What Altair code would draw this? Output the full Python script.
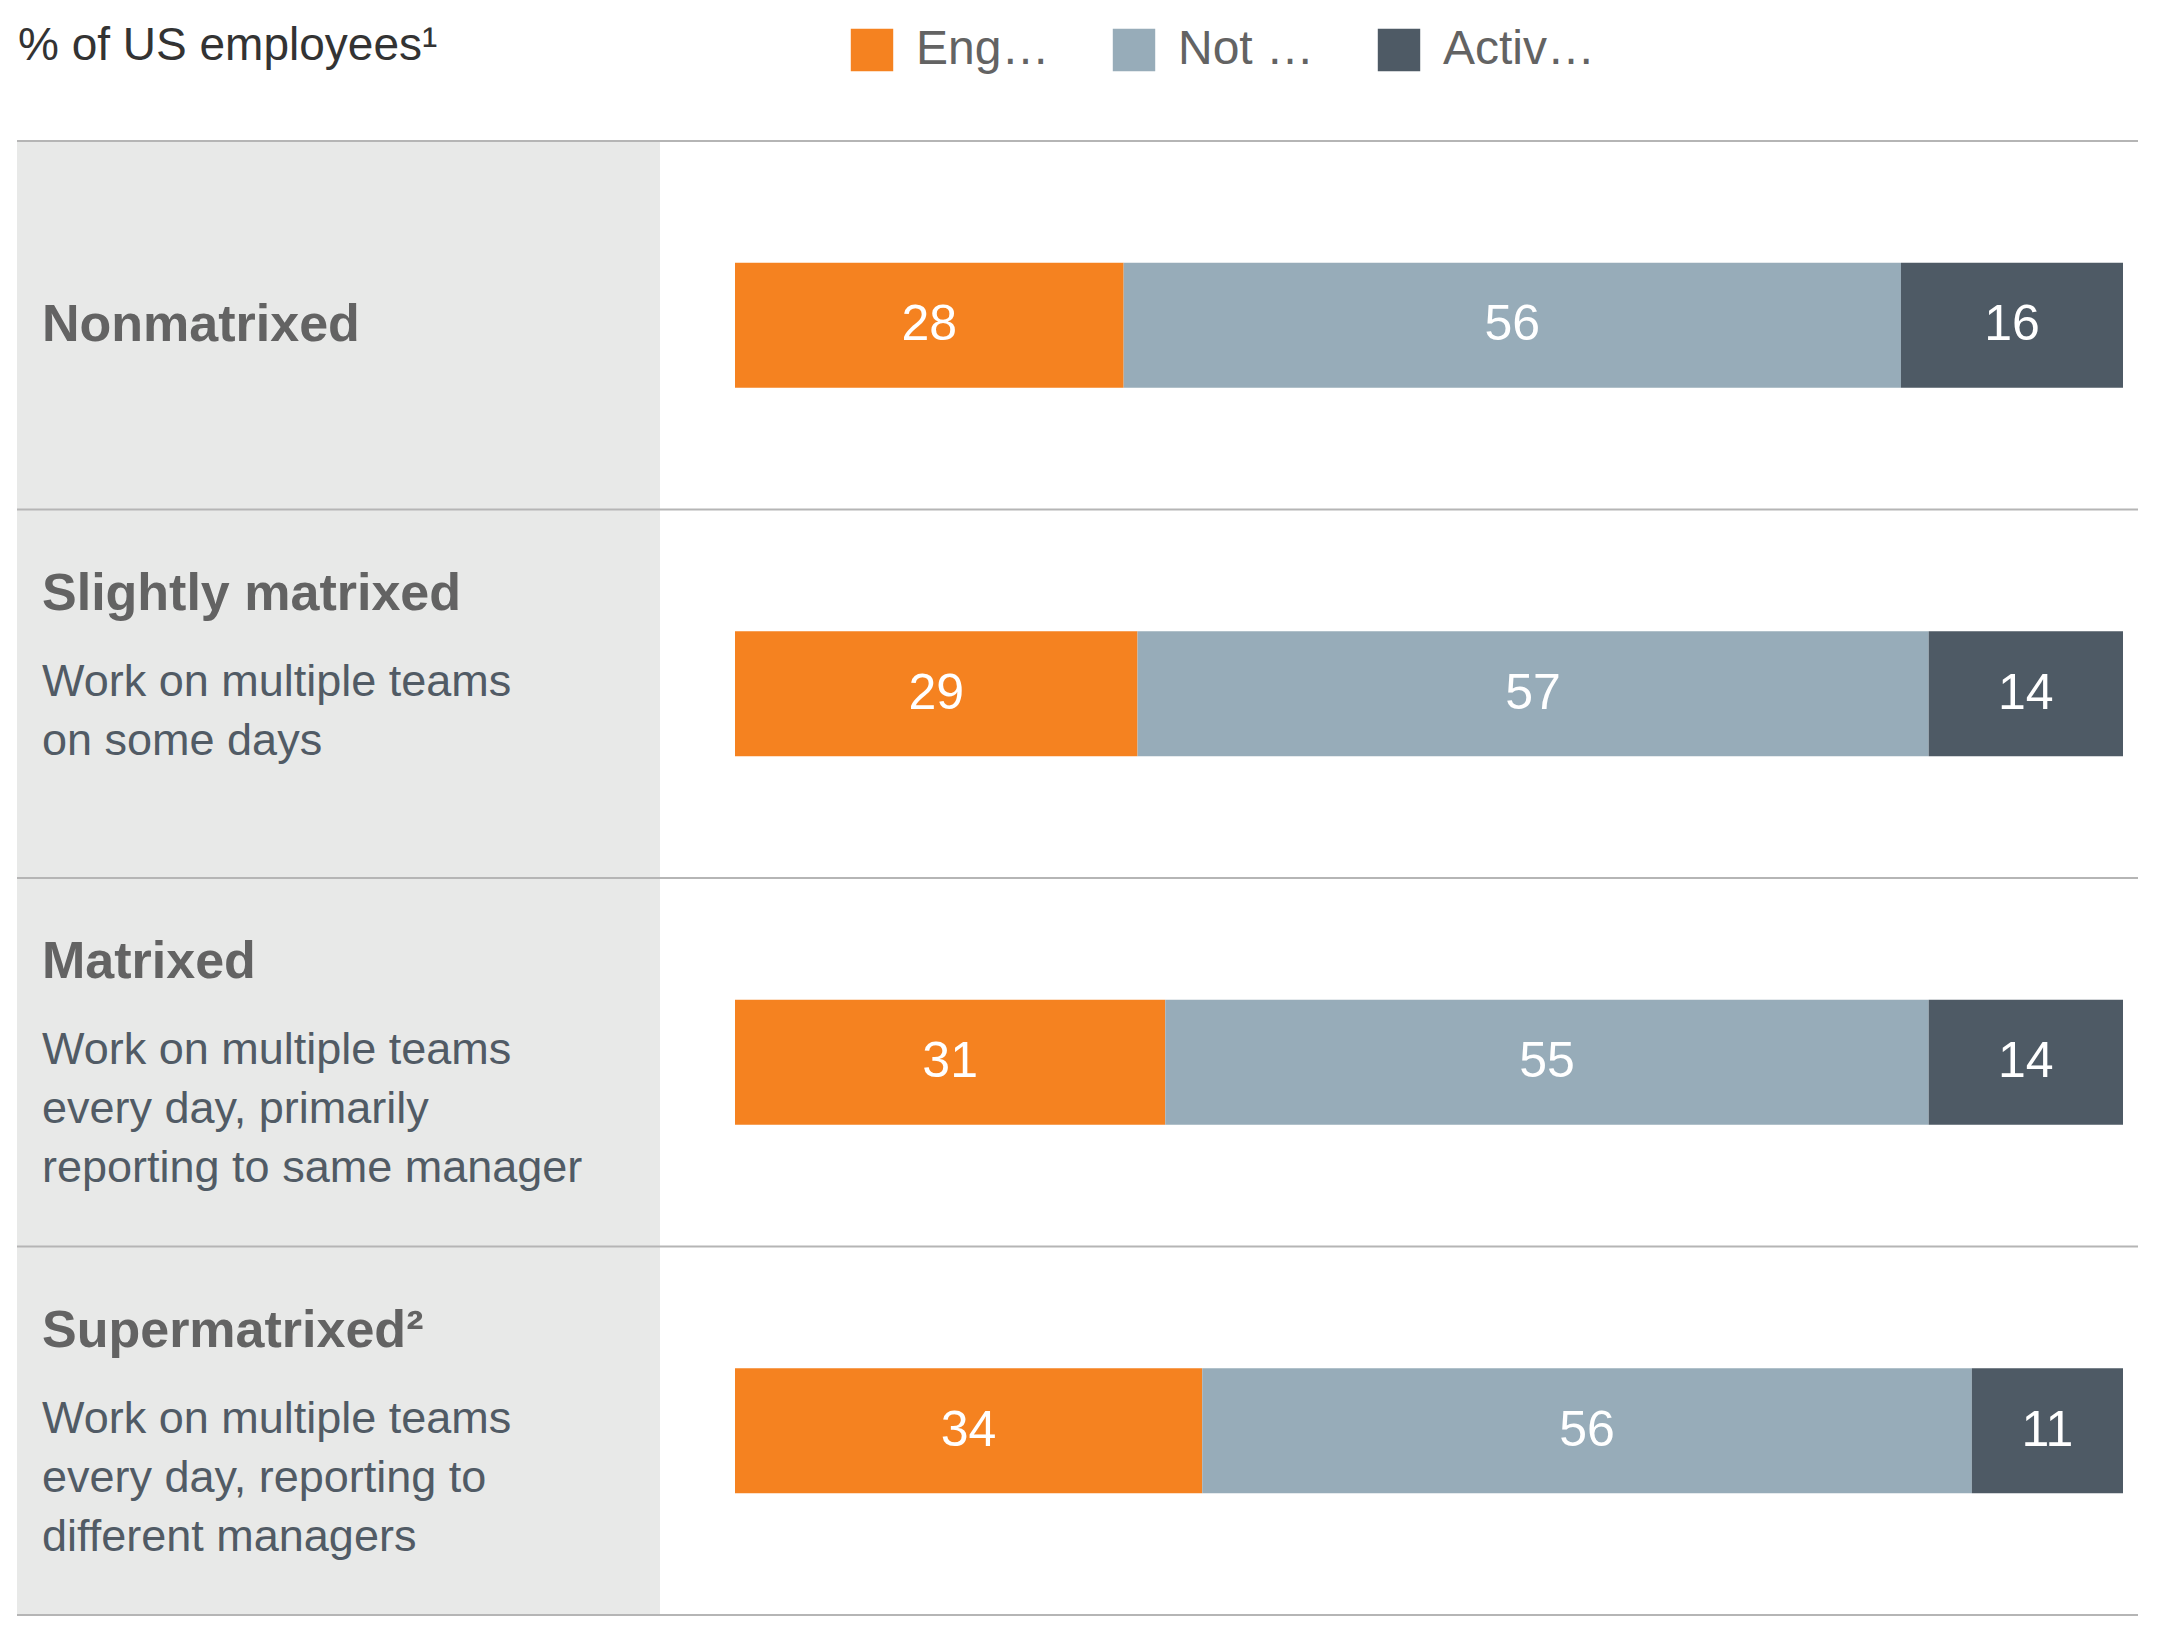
import altair as alt
import pandas as pd

categories = ["Nonmatrixed", "Slightly matrixed", "Matrixed", "Supermatrixed²"]
descriptions = ["", "Work on multiple teams\non some days",
                "Work on multiple teams\nevery day, primarily\nreporting to same manager",
                "Work on multiple teams\nevery day, reporting to\ndifferent managers"]
series = ["Engaged", "Not engaged", "Actively disengaged"]
engaged = [28, 29, 31, 34]
not_engaged = [56, 57, 55, 56]
disengaged = [16, 14, 14, 11]
colors = ["#F58220", "#97ACB9", "#4E5A65"]

rows = []
for i, c in enumerate(categories):
    vals = [engaged[i], not_engaged[i], disengaged[i]]
    tot = sum(vals)
    cum = 0
    for s, v in zip(series, vals):
        rows.append(dict(cat=c, series=s, value=v, x0=cum / tot, x1=(cum + v) / tot,
                         mid=(cum + v / 2) / tot))
        cum += v
bars = pd.DataFrame(rows)
cats = pd.DataFrame(dict(cat=categories, desc=descriptions, idx=range(4)))

F = "Liberation Sans"
yband = alt.Scale(domain=categories, range=[133, 1607], paddingInner=0, paddingOuter=0)
xs = alt.Scale(domain=[0, 1], range=[727, 2115])

bg = alt.Chart(cats).mark_rect(color="#E8E9E8").encode(
    y=alt.Y("cat:N", scale=yband, axis=None), x=alt.value(9), x2=alt.value(652))
rules = alt.Chart(cats).mark_rule(color="#B5B5B5", strokeWidth=2).encode(
    y=alt.Y("cat:N", scale=yband, bandPosition=0), x=alt.value(9), x2=alt.value(2130))
bottom = alt.Chart(cats.head(1)).mark_rule(color="#B5B5B5", strokeWidth=2).encode(
    y=alt.value(1607), x=alt.value(9), x2=alt.value(2130))

bar = alt.Chart(bars).mark_bar(height=125).encode(
    y=alt.Y("cat:N", scale=yband),
    x=alt.X("x0:Q", scale=xs, axis=None), x2="x1:Q",
    color=alt.Color("series:N", scale=alt.Scale(domain=series, range=colors),
                    legend=alt.Legend(orient="none", legendX=840, legendY=18, direction="horizontal",
                                      title=None, symbolType="square", symbolSize=1800,
                                      symbolStrokeWidth=0, symbolOpacity=1,
                                      labelFontSize=48, labelFont=F, labelColor="#636363",
                                      columnPadding=60, labelOffset=20)))
nums = alt.Chart(bars).mark_text(color="white", fontSize=50, font=F).encode(
    y=alt.Y("cat:N", scale=yband), x=alt.X("mid:Q", scale=xs), text="value:Q")

title1 = alt.Chart(cats).transform_filter("datum.idx == 0").mark_text(
    align="left", fontSize=52, fontWeight="bold", font=F, color="#636363").encode(
    y=alt.Y("cat:N", scale=yband), x=alt.value(34), text="cat:N")
titles = alt.Chart(cats).transform_filter("datum.idx > 0").mark_text(
    align="left", baseline="middle", dy=84, fontSize=52, fontWeight="bold", font=F,
    color="#636363").encode(
    y=alt.Y("cat:N", scale=yband, bandPosition=0), x=alt.value(34), text="cat:N")
descs = alt.Chart(cats).transform_filter("datum.idx > 0").transform_calculate(
    lines="split(datum.desc, '\\n')").mark_text(
    align="left", baseline="top", dy=150, fontSize=45, font=F, color="#515B65",
    lineHeight=59).encode(
    y=alt.Y("cat:N", scale=yband, bandPosition=0), x=alt.value(34), text="lines:N")
head = alt.Chart(cats.head(1)).mark_text(
    align="left", baseline="middle", fontSize=46, font=F, color="#333333").encode(
    x=alt.value(10), y=alt.value(38), text=alt.value("% of US employees¹"))

chart = alt.layer(bg, rules, bottom, bar, nums, title1, titles, descs, head).properties(
    width=2140, height=1610, padding=0
).configure_view(stroke=None)
chart.save("out.html", embed_options={"renderer": "svg", "actions": False})
